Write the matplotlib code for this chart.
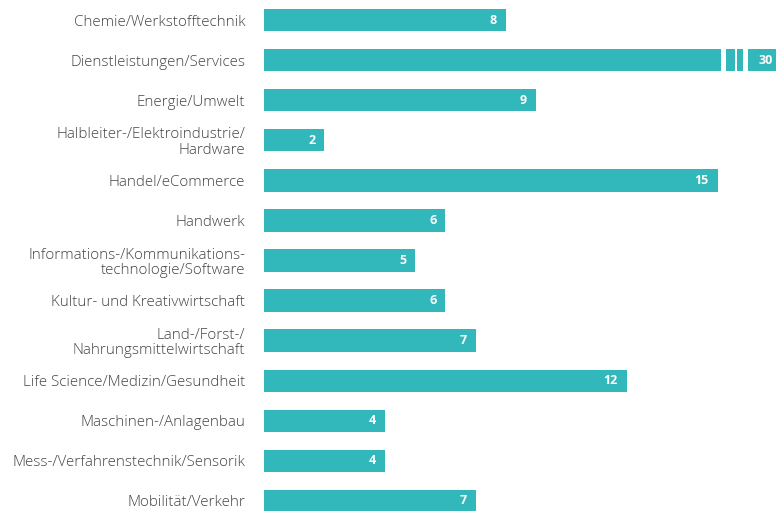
import matplotlib.pyplot as plt

categories = [
    'Chemie/Werkstofftechnik',
    'Dienstleistungen/Services',
    'Energie/Umwelt',
    'Halbleiter-/Elektroindustrie/\nHardware',
    'Handel/eCommerce',
    'Handwerk',
    'Informations-/Kommunikations-\ntechnologie/Software',
    'Kultur- und Kreativwirtschaft',
    'Land-/Forst-/\nNahrungsmittelwirtschaft',
    'Life Science/Medizin/Gesundheit',
    'Maschinen-/Anlagenbau',
    'Mess-/Verfahrenstechnik/Sensorik',
    'Mobilität/Verkehr',
]
values = [8, 30, 9, 2, 15, 6, 5, 6, 7, 12, 4, 4, 7]

plt.rcParams['font.family'] = ['Open Sans', 'DejaVu Sans']

bar_color = '#32b7ba'
x_max = 16.93  # visible part of the axis; bigger values get a break

fig = plt.figure(figsize=(7.76, 5.11), dpi=100)
ax = fig.add_axes([264 / 776, 0.0, 1 - 264 / 776, 1.0])

ypos = list(range(len(values)))
shown = [min(v, x_max) for v in values]
ax.barh(ypos, shown, height=0.56, color=bar_color, edgecolor='none')

# axis break for bars that are longer than the visible range
for y, v in zip(ypos, values):
    if v > x_max:
        for bx, bw in ((15.11, 0.17), (15.57, 0.07), (15.83, 0.17)):
            ax.barh(y, bw, left=bx, height=0.62, color='white', edgecolor='none')

for y, v, s in zip(ypos, values, shown):
    pad = 0.1 if v > x_max else 0.3
    ax.text(s - pad, y, str(v), ha='right', va='center', color='white',
            fontsize=9, fontweight='bold')

ax.set_xlim(0, x_max)
ax.set_ylim(12.25, -0.5)
ax.set_yticks(ypos)
ax.set_yticklabels(categories, fontsize=10.9, color='#444444', linespacing=1.05,
                   fontweight='light')
ax.tick_params(axis='y', length=0, pad=13.5)
ax.set_xticks([])
for sp in ax.spines.values():
    sp.set_visible(False)

fig.savefig('out.png', dpi=100)
